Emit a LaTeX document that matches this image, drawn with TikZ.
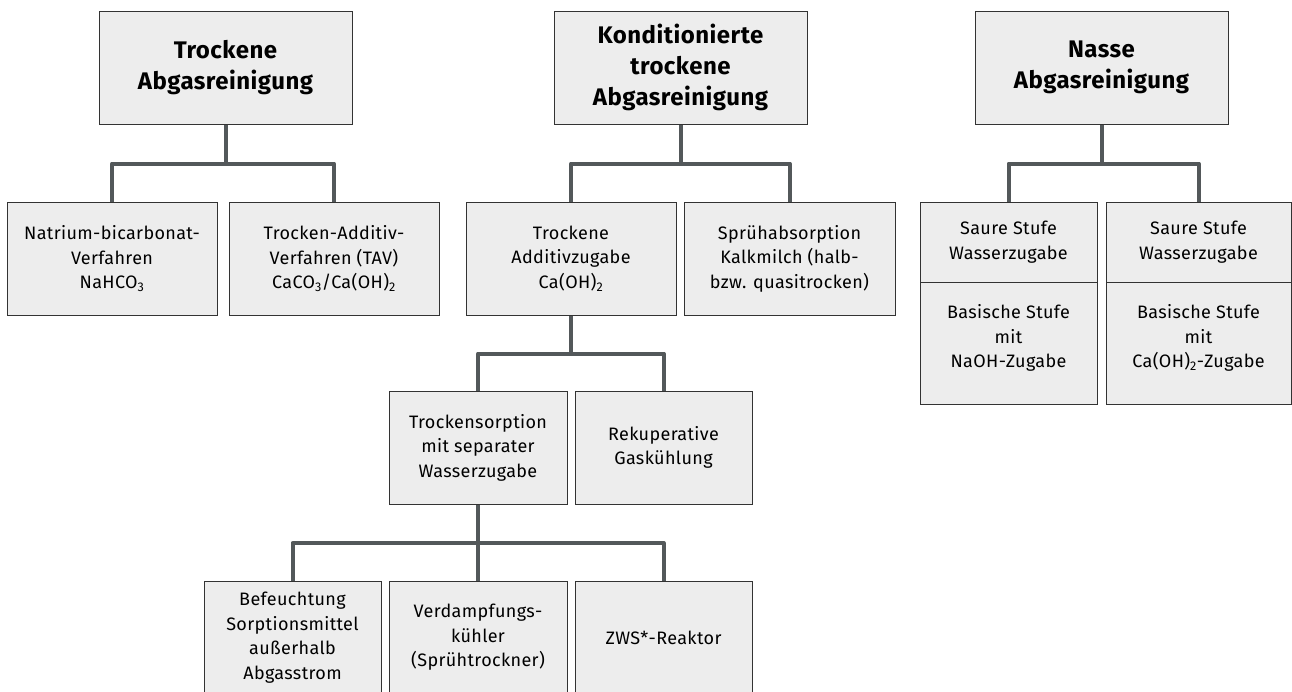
\documentclass[tikz,border=0pt]{standalone}
\usepackage{fontspec}
\setmainfont{Fira Sans}[LetterSpace=2]
\definecolor{boxfill}{HTML}{EDEDED}
\definecolor{boxline}{HTML}{333333}
\definecolor{linkgray}{HTML}{53585A}

\begin{document}
\begin{tikzpicture}
[%%%%%%%%%%%%%%%%%%%%%%%%%%%%%%
x=1pt,y=-1pt,
box/.style={rectangle,draw=boxline,fill=boxfill,line width=1pt,minimum height=113pt,
  inner sep=0pt,align=center,font=\fontsize{18}{24.5}\selectfont},
head/.style={box,minimum width=253pt,font=\fontsize{24}{31}\selectfont\bfseries},
link/.style={draw=linkgray,line width=4pt,line join=round},
]%%%%%%%%%%%%%%%%%%%%%%%%%%%%%%
\useasboundingbox (0,0) rectangle (1292,691);
\clip (0,0) rectangle (1292,691);

% heads
\node[head] (tr) at (225.5,67.5){Trockene\\Abgasreinigung};
\node[head] (ko) at (680.5,67.5){Konditionierte\\trockene\\Abgasreinigung};
\node[head] (na) at (1101.5,67.5){Nasse\\Abgasreinigung};

% trocken
\node[box,minimum width=210pt] (tra) at (112,258.5){Natrium-bicarbonat-\\Verfahren\\NaHCO\textsubscript{3}};
\node[box,minimum width=210pt] (trb) at (334,258.5){Trocken-Additiv-\\Verfahren (TAV)\\CaCO\textsubscript{3}/Ca(OH)\textsubscript{2}};

% konditioniert
\node[box,minimum width=210pt] (koa) at (571,258.5){Trockene\\Additivzugabe\\Ca(OH)\textsubscript{2}};
\node[box,minimum width=211pt] (kob) at (789.5,258.5){Sprühabsorption\\Kalkmilch (halb-\\bzw. quasitrocken)};
\node[box,minimum width=178pt] (koc) at (478,447.5){Trockensorption\\mit separater\\Wasserzugabe};
\node[box,minimum width=177pt] (kod) at (663.5,447.5){Rekuperative\\Gaskühlung};
\node[box,minimum width=177pt] (koe) at (292.5,637.5){Befeuchtung\\Sorptionsmittel\\außerhalb\\Abgasstrom};
\node[box,minimum width=178pt] (kof) at (478,637.5){Verdampfungs-\\kühler\\(Sprühtrockner)};
\node[box,minimum width=177pt] (kog) at (663.5,637.5){ZWS*-Reaktor};

% nass
\node[box,minimum width=177pt,minimum height=80pt] (naa) at (1008.5,242){Saure Stufe\\Wasserzugabe};
\node[box,minimum width=177pt,minimum height=122pt,text depth=14pt] (nab) at (1008.5,343){Basische Stufe\\mit\\NaOH-Zugabe};
\node[box,minimum width=185pt,minimum height=80pt] (nac) at (1198.5,242){Saure Stufe\\Wasserzugabe};
\node[box,minimum width=185pt,minimum height=122pt,text depth=14pt] (nad) at (1198.5,343){Basische Stufe\\mit\\Ca(OH)\textsubscript{2}-Zugabe};

% links
\foreach \p/\c in {tr/tra,tr/trb,ko/koa,ko/kob,na/naa,na/nac}
\draw[link] (\p.south) -- ++(0,39) -| (\c.north);
\foreach \c in {koc,kod}
\draw[link] (koa.south) -- ++(0,38) -| (\c.north);
\foreach \c in {koe,kof,kog}
\draw[link] (koc.south) -- ++(0,38.5) -| (\c.north);
\end{tikzpicture}
\end{document}
